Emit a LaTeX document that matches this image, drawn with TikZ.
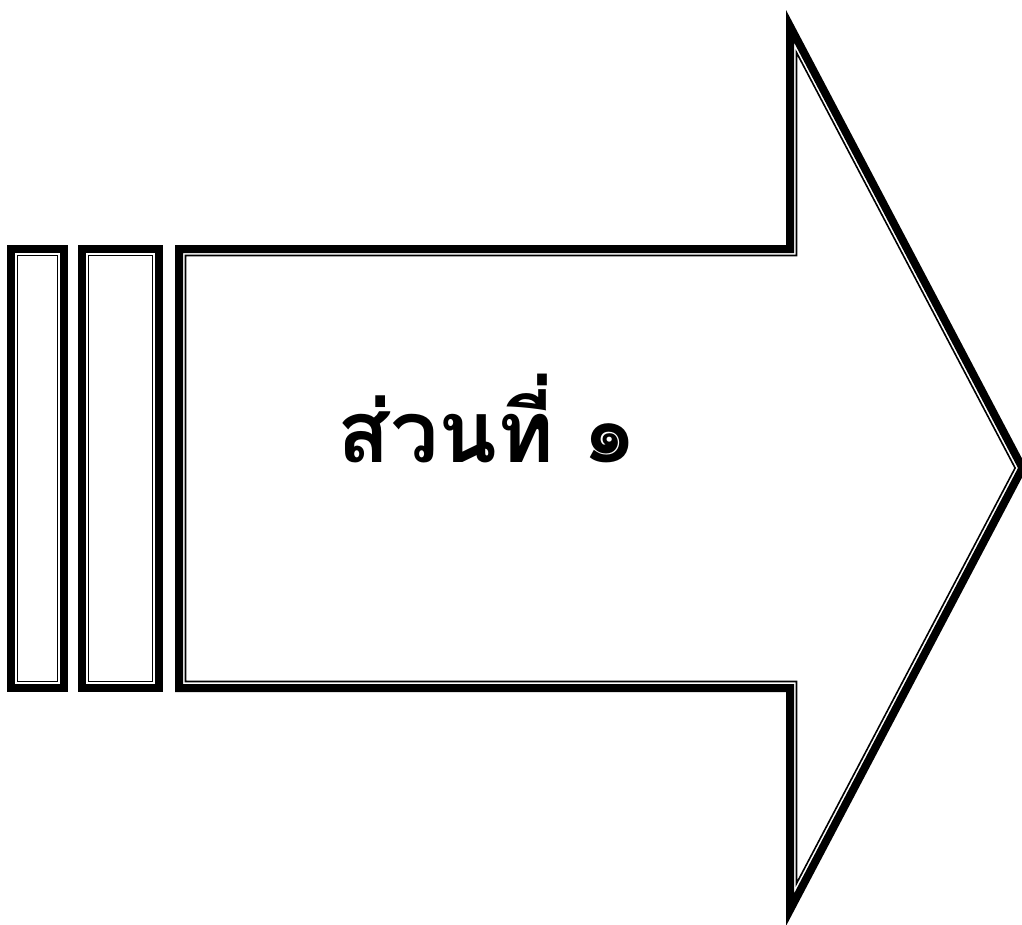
\documentclass[tikz,border=0pt]{standalone}
\usepackage{fontspec}
\newfontfamily\thaifont[Script=Thai]{Loma}
\usetikzlibrary{positioning}
\tikzset{
    outerline/.style={draw=black, line width=8pt, line join=miter}, % thick band
    innerline/.style={draw=black, line width=1.6pt, line join=miter}, % thin inner line
    titletext/.style={font=\thaifont\bfseries\fontsize{86}{96}\selectfont},
}

\begin{document}
\begin{tikzpicture}[x=1pt,y=-1pt]
  \useasboundingbox (0,0) rectangle (1022,924);

  % first bar
  \draw[outerline] (11,249) rectangle (64,688);
  \draw[innerline] (17.5,255.5) rectangle (57.5,681.5);

  % second bar
  \draw[outerline] (82,249) rectangle (159,688);
  \draw[innerline] (88.5,255.5) rectangle (152.5,681.5);

  % the arrow
  \draw[outerline] (179,249) -- (790,249) -- (790,26.2) -- (1022.5,468)
    -- (790,909.8) -- (790,688) -- (179,688) -- cycle;
  \draw[innerline] (185.5,255.5) -- (796.5,255.5) -- (796.5,52.5) -- (1015.1,468)
    -- (796.5,883.5) -- (796.5,681.5) -- (185.5,681.5) -- cycle;

  \node[titletext, anchor=base] (title) at (487.5,462) {ส่วนที่ ๑};
\end{tikzpicture}
\end{document}
